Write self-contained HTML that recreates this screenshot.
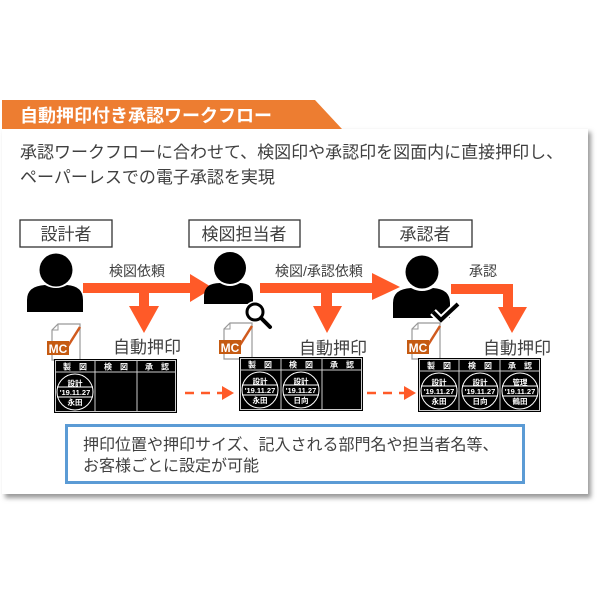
<!DOCTYPE html>
<html><head><meta charset="utf-8"><style>
html,body{margin:0;padding:0;background:#fff;}
body{width:600px;height:600px;position:relative;overflow:hidden;font-family:"Liberation Sans","Noto Sans CJK JP",sans-serif;}
</style></head><body>
<svg width="600" height="600" viewBox="0 0 600 600" xmlns="http://www.w3.org/2000/svg" style="position:absolute;left:0;top:0">
<defs>
<filter id="sh" x="-5%" y="-5%" width="115%" height="115%"><feGaussianBlur stdDeviation="2.5"/></filter>
<g id="mc">
 <path d="M6,0 H28 V36 H0 V6 Z" fill="#fff" stroke="#999" stroke-width="1.2"/>
 <path d="M0,6 H6 V0" fill="none" stroke="#999" stroke-width="1"/>
 <path d="M28,3 L16,22" stroke="#d05a1e" stroke-width="2.5"/>
 <rect x="-5" y="17" width="22" height="14" fill="#c55a11"/>
 <text x="6" y="29" font-size="12" font-weight="bold" fill="#fff" text-anchor="middle" font-family="Liberation Sans,sans-serif">MC</text>
</g>
<g id="stamp" fill="none" stroke="#fff" stroke-width="1">
 <circle cx="0" cy="0" r="18"/>
 <line x1="-18" y1="-5" x2="18" y2="-5"/>
 <line x1="-18" y1="5" x2="18" y2="5"/>
</g>
</defs>
<!-- panel -->
<rect x="5" y="132" width="586" height="366" fill="#999" filter="url(#sh)"/>
<rect x="2" y="129" width="586" height="365" fill="#fff"/>
<!-- header -->
<path d="M2,100 H315 L342,129 H2 Z" fill="#ed7d31"/>
<text x="20" y="122" font-size="18" font-weight="bold" fill="#fff">自動押印付き承認ワークフロー</text>
<g font-size="17" fill="#404040">
<text x="20" y="158">承認ワークフローに合わせて、検図印や承認印を図面内に直接押印し、</text>
<text x="20" y="183">ペーパーレスでの電子承認を実現</text>
</g>
<!-- role boxes -->
<g fill="#fff" stroke="#333" stroke-width="1.3">
<rect x="20" y="220" width="92" height="27"/>
<rect x="189" y="220" width="111" height="27"/>
<rect x="379" y="220" width="93" height="27"/>
</g>
<g font-size="17" fill="#404040" text-anchor="middle">
<text x="66" y="240">設計者</text>
<text x="244" y="240">検図担当者</text>
<text x="425" y="240">承認者</text>
</g>
<!-- arrow labels -->
<g font-size="14" fill="#404040" text-anchor="middle">
<text x="137" y="276">検図依頼</text>
<text x="319" y="276">検図/承認依頼</text>
<text x="483" y="276">承認</text>
</g>
<!-- arrows -->
<g fill="#ff5a28">
<path d="M83,283 H190 V274 L213,288 L190,302 V293 H83 Z"/>
<path d="M139,293 H149 V306 H159 L144,333 L129,306 H139 Z"/>
<path d="M260,283 H372 V273 L400,287 L372,300 V293 H260 Z"/>
<path d="M321,293 H332 V306 H342 L327,333 L313,306 H321 Z"/>
<path d="M451,284 H513 V307 H527 L512,333 L498,307 H503 V294 H451 Z"/>
</g>
<!-- persons -->
<g fill="#000">
<circle cx="56" cy="270" r="16.5"/>
<path d="M27,312 V300 Q27,286 45,285 Q56,291 67,285 Q83,286 83,300 V312 Z"/>
<circle cx="230" cy="268" r="16"/>
<path d="M204,304 V296 Q204,283 220,283 Q230,289 240,283 Q253,283 253,296 V304 Z"/>
<circle cx="422" cy="272" r="16.5"/>
<path d="M393,318 V303 Q393,289 411,288 Q422,294 433,288 Q450,289 450,303 V318 Z"/>
</g>
<!-- magnifier -->
<circle cx="255" cy="312" r="11" fill="#fff"/>
<circle cx="255" cy="312" r="8" fill="#fff" stroke="#000" stroke-width="3"/>
<line x1="261" y1="318" x2="270" y2="327" stroke="#000" stroke-width="4" stroke-linecap="round"/>
<!-- check -->
<path d="M433,312 L441,320 L458,304" fill="none" stroke="#fff" stroke-width="8"/>
<path d="M433,312 L441,320 L458,304" fill="none" stroke="#000" stroke-width="4"/>
<!-- MC icons -->
<use href="#mc" x="52" y="324"/>
<use href="#mc" x="224" y="323"/>
<use href="#mc" x="412" y="323"/>
<!-- auto stamp labels -->
<g font-size="17" fill="#404040">
<text x="113" y="353">自動押印</text>
<text x="299" y="354">自動押印</text>
<text x="483" y="354">自動押印</text>
</g>
<!-- tables -->
<g>
<rect x="54" y="359" width="123" height="54" fill="#000"/>
<rect x="239" y="357" width="124" height="54" fill="#000"/>
<rect x="418" y="358" width="123" height="54" fill="#000"/>
</g>
<g stroke="#ccc" stroke-width="1" fill="none">
<rect x="55.5" y="360.5" width="120" height="51"/>
<line x1="55" y1="372" x2="176" y2="372"/><line x1="95" y1="360" x2="95" y2="412"/><line x1="137" y1="360" x2="137" y2="412"/>
<rect x="240.5" y="358.5" width="121" height="51"/>
<line x1="240" y1="370" x2="362" y2="370"/><line x1="281" y1="358" x2="281" y2="410"/><line x1="322" y1="358" x2="322" y2="410"/>
<rect x="419.5" y="359.5" width="120" height="51"/>
<line x1="419" y1="371" x2="540" y2="371"/><line x1="459" y1="359" x2="459" y2="411"/><line x1="500" y1="359" x2="500" y2="411"/>
</g>
<g font-size="8" fill="#fff" text-anchor="middle" font-weight="bold">
<text x="75" y="369.5">製　図</text><text x="116" y="369.5">検　図</text><text x="157" y="369.5">承　認</text>
<text x="260" y="367.5">製　図</text><text x="301" y="367.5">検　図</text><text x="342" y="367.5">承　認</text>
<text x="439" y="368.5">製　図</text><text x="480" y="368.5">検　図</text><text x="520" y="368.5">承　認</text>
</g>
<use href="#stamp" x="75" y="392"/>
<use href="#stamp" x="260" y="390"/><use href="#stamp" x="301" y="390"/>
<use href="#stamp" x="439" y="391"/><use href="#stamp" x="480" y="391"/><use href="#stamp" x="520" y="391"/>
<g font-size="7.5" fill="#fff" text-anchor="middle" font-weight="bold">
<text x="75" y="386">設計</text><text x="75" y="395">'19.11.27</text><text x="75" y="405">永田</text>
<text x="260" y="384">設計</text><text x="260" y="393">'19.11.27</text><text x="260" y="403">永田</text>
<text x="301" y="384">設計</text><text x="301" y="393">'19.11.27</text><text x="301" y="403">日向</text>
<text x="439" y="385">設計</text><text x="439" y="394">'19.11.27</text><text x="439" y="404">永田</text>
<text x="480" y="385">設計</text><text x="480" y="394">'19.11.27</text><text x="480" y="404">日向</text>
<text x="520" y="385">管理</text><text x="520" y="394">'19.11.27</text><text x="520" y="404">鶴田</text>
</g>
<!-- dashed arrows -->
<g stroke="#ff5a28" stroke-width="2.5" stroke-dasharray="9,7">
<line x1="185" y1="393" x2="222" y2="393"/>
<line x1="367" y1="393" x2="404" y2="393"/>
</g>
<path d="M222,386 L234,393 L222,400 Z" fill="#ff5a28"/>
<path d="M404,386 L416,393 L404,400 Z" fill="#ff5a28"/>
<!-- blue box -->
<rect x="66.5" y="425.5" width="457" height="57" fill="#fff" stroke="#5b9bd5" stroke-width="3"/>
<g font-size="16" fill="#404040">
<text x="83" y="450">押印位置や押印サイズ、記入される部門名や担当者名等、</text>
<text x="83" y="471">お客様ごとに設定が可能</text>
</g>
</svg>
</body></html>
